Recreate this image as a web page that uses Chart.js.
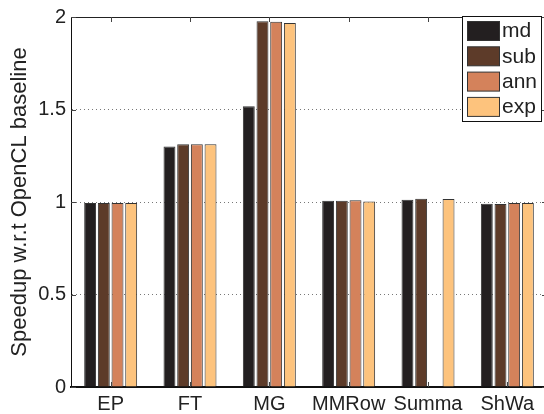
<!DOCTYPE html>
<html>
<head>
<meta charset="utf-8">
<script src="https://cdn.jsdelivr.net/npm/chart.js@4/dist/chart.umd.min.js"></script>
<style>
  html, body { margin: 0; padding: 0; background: #fff; overflow: hidden; }
  #wrap { width: 548px; height: 414px; }
</style>
</head>
<body>
<div id="wrap"><canvas id="c" width="548" height="414"></canvas></div>
<script>
const categories = ['EP', 'FT', 'MG', 'MMRow', 'Summa', 'ShWa'];
const seriesNames = ['md', 'sub', 'ann', 'exp'];
const mdValues  = [0.995, 1.300, 1.518, 1.007, 1.012, 0.991];
const subValues = [0.995, 1.312, 1.977, 1.007, 1.018, 0.989];
const annValues = [0.995, 1.312, 1.975, 1.009, null,  0.995];
const expValues = [0.995, 1.312, 1.968, 1.003, 1.016, 0.995];
const yTickValues = [0, 0.5, 1, 1.5, 2];
const yTickLabels = ['0', '0.5', '1', '1.5', '2'];
const yTitle = 'Speedup w.r.t OpenCL baseline';

const colors = ['#231f20', '#5d3b29', '#d4825b', '#fdc37d'];
const FONT = '"Liberation Sans", Arial, Helvetica, sans-serif';

const boxPlugin = {
  id: 'boxPlugin',
  afterDatasetsDraw(chart) {
    const ctx = chart.ctx, a = chart.chartArea;
    const xs = chart.scales.x, ys = chart.scales.y;
    ctx.save();
    ctx.strokeStyle = '#222';
    ctx.lineWidth = 1;
    ctx.beginPath();
    ctx.moveTo(a.left, a.top + 0.5); ctx.lineTo(a.right, a.top + 0.5);
    ctx.moveTo(a.right - 0.5, a.top); ctx.lineTo(a.right - 0.5, a.bottom);
    ctx.stroke();
    ctx.strokeStyle = '#444';
    ctx.beginPath();
    for (let i = 0; i < categories.length; i++) {
      const x = Math.round(xs.getPixelForTick(i)) + 0.5;
      ctx.moveTo(x, a.top); ctx.lineTo(x, a.top + 5);
      ctx.moveTo(x, a.bottom); ctx.lineTo(x, a.bottom - 5);
    }
    yTickValues.forEach(v => {
      const y = Math.round(ys.getPixelForValue(v)) + 0.5;
      ctx.moveTo(a.left, y); ctx.lineTo(a.left + 5, y);
      ctx.moveTo(a.right, y); ctx.lineTo(a.right - 5, y);
    });
    ctx.stroke();
    ctx.restore();
  },
  afterDraw(chart) {
    const ctx = chart.ctx;
    const lx = 462, ly = 16, lw = 80, lh = 106;
    ctx.save();
    ctx.fillStyle = '#fff';
    ctx.fillRect(lx, ly, lw, lh);
    ctx.strokeStyle = '#111';
    ctx.lineWidth = 1;
    ctx.strokeRect(lx + 0.5, ly + 0.5, lw - 1, lh - 1);
    ctx.font = '21px ' + FONT;
    ctx.textBaseline = 'middle';
    ctx.textAlign = 'left';
    chart.data.datasets.forEach((ds, i) => {
      const sy = 21.5 + i * 25.3;
      ctx.fillStyle = ds.backgroundColor;
      ctx.fillRect(467.5, sy, 32, 19);
      ctx.strokeStyle = '#333';
      ctx.strokeRect(467.5, sy, 32, 19);
      ctx.fillStyle = '#222';
      ctx.fillText(ds.label, 502, sy + 10);
    });
    ctx.restore();
  }
};

const datasetValues = [mdValues, subValues, annValues, expValues];

new Chart(document.getElementById('c'), {
  type: 'bar',
  data: {
    labels: categories,
    datasets: seriesNames.map((n, i) => ({
      label: n,
      data: datasetValues[i],
      backgroundColor: colors[i],
      borderColor: '#333',
      borderWidth: 1,
      categoryPercentage: 0.69,
      barPercentage: 0.87
    }))
  },
  options: {
    responsive: false,
    animation: false,
    layout: { padding: { left: 0, right: 1, top: 11, bottom: 0 } },
    plugins: { legend: { display: false }, tooltip: { enabled: false } },
    scales: {
      x: {
        grid: { display: false, drawTicks: false },
        border: { display: true, color: '#111', width: 2 },
        ticks: { color: '#222', font: { family: FONT, size: 20 }, padding: 5, maxRotation: 0 },
        afterFit(s) { s.height = 27; }
      },
      y: {
        min: 0, max: 2,
        afterBuildTicks(s) { s.ticks = yTickValues.map(v => ({ value: v })); },
        grid: {
          drawTicks: false,
          color: ctx => (ctx.tick && (ctx.tick.value === 0 || ctx.tick.value === 2)) ? 'rgba(0,0,0,0)' : '#777',
          lineWidth: 1
        },
        border: { display: true, color: '#111', width: 1, dash: [1, 3] },
        ticks: {
          color: '#222', font: { family: FONT, size: 20 }, padding: 5,
          callback: (v) => { const k = yTickValues.indexOf(v); return k >= 0 ? yTickLabels[k] : ''; }
        },
        title: { display: true, text: yTitle, color: '#222', font: { family: FONT, size: 22 }, padding: { top: 7, bottom: 0 } },
        afterFit(s) { s.width = 71; }
      }
    }
  },
  plugins: [boxPlugin]
});
</script>
</body>
</html>
